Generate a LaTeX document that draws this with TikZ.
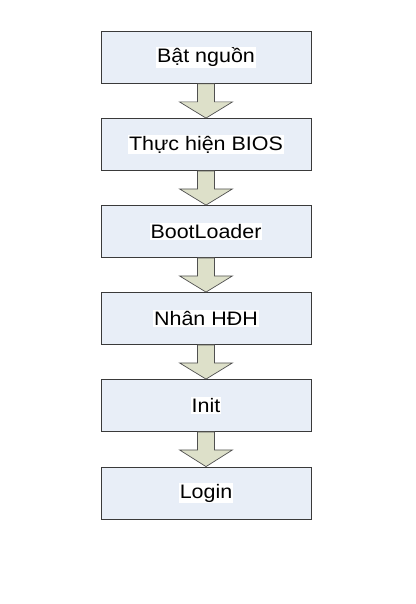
\documentclass[tikz,border=0pt]{standalone}
\usepackage{fontspec}
\setmainfont{Liberation Sans}[FakeStretch=1.1]
\usetikzlibrary{calc}
\definecolor{boxfill}{HTML}{E8EEF7}
\definecolor{boxline}{HTML}{3A3A3A}
\definecolor{arrfill}{HTML}{DDE0C9}
\definecolor{arrline}{HTML}{505050}
\newcommand{\hlt}[1]{{\setlength{\fboxsep}{1pt}\colorbox{white}{#1}}}
\tikzset{
  stepbox/.style={draw=boxline, line width=0.8pt, fill=boxfill, minimum width=210pt, minimum height=52pt, inner sep=0pt, font=\fontsize{19.5}{22}\selectfont},
  fatarrow/.style={draw=arrline, line width=0.7pt, fill=arrfill, line join=miter}
}
\newcommand{\fatarrowdraw}[2]{%
  \draw[fatarrow] ($(#1.south)+(-8.5,0)$) -- ($(#1.south)+(8.5,0)$) -- ($(#1.south)+(8.5,18)$) -- ($(#1.south)+(26.5,18)$) -- (#2.north) -- ($(#1.south)+(-26.5,18)$) -- ($(#1.south)+(-8.5,18)$) -- cycle;}
\begin{document}
\begin{tikzpicture}[x=1pt,y=-1pt]
\useasboundingbox (0,0) rectangle (415,604);
\node[stepbox] (n1) at (206,57.5) {\hlt{Bật nguồn}};
\node[stepbox] (n2) at (206,144.5) {\hlt{Thực hiện BIOS}};
\node[stepbox] (n3) at (206,231.5) {\hlt{BootLoader}};
\node[stepbox] (n4) at (206,318.5) {\hlt{Nhân HĐH}};
\node[stepbox] (n5) at (206,405.5) {\hlt{Init}};
\node[stepbox] (n6) at (206,493) {\hlt{Login}};
\fatarrowdraw{n1}{n2}
\fatarrowdraw{n2}{n3}
\fatarrowdraw{n3}{n4}
\fatarrowdraw{n4}{n5}
\fatarrowdraw{n5}{n6}
\end{tikzpicture}
\end{document}
